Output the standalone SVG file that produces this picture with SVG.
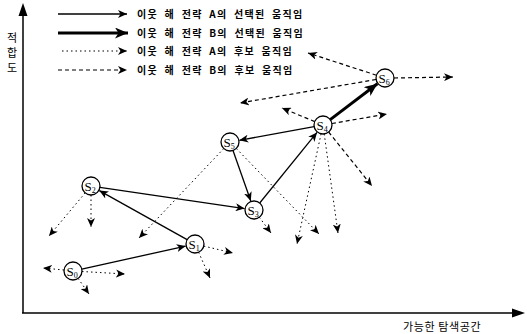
<svg xmlns="http://www.w3.org/2000/svg" width="527" height="334" viewBox="0 0 527 334">
<defs>
<marker id="ah" markerUnits="userSpaceOnUse" markerWidth="10" markerHeight="8" refX="9" refY="4" orient="auto">
<path d="M0,0 L9,4 L0,8 L2.5,4 z" fill="#000"/>
</marker>
<marker id="ahb" markerUnits="userSpaceOnUse" markerWidth="14" markerHeight="11" refX="13" refY="5.5" orient="auto">
<path d="M0,0 L13,5.5 L0,11 L3.5,5.5 z" fill="#000"/>
</marker>
</defs>
<style>
.sel{stroke:#000;stroke-width:1.3;fill:none;marker-end:url(#ah)}
.selb{stroke:#000;stroke-width:3;fill:none;marker-end:url(#ahb)}
.ca{stroke:#000;stroke-width:1;fill:none;stroke-dasharray:1.5 3;marker-end:url(#ah)}
.cb{stroke:#000;stroke-width:1.2;fill:none;stroke-dasharray:4 3;marker-end:url(#ah)}
.node circle{fill:#fff;stroke:#000;stroke-width:1.3}
.node text{font-family:"Liberation Serif",serif;font-size:13px;fill:#000}
.lg{font-family:"Noto Sans CJK KR",sans-serif;font-size:10px;font-weight:bold;fill:#000;letter-spacing:1.3px;word-spacing:3px}
.ax{font-family:"Noto Sans CJK KR",sans-serif;font-size:11px;fill:#000}
.axis{stroke:#000;stroke-width:1.5;fill:none}
</style>
<g id="axes">
<line class="axis" x1="23" y1="313" x2="23" y2="14"/>
<path d="M23,3 L18.5,16 L27.5,16 z" fill="#000"/>
<line class="axis" x1="22" y1="313" x2="514" y2="313"/>
<path d="M525,313 L512,308.5 L512,317.5 z" fill="#000"/>
<text class="ax" x="12" y="42" text-anchor="middle">적</text>
<text class="ax" x="12" y="57" text-anchor="middle">합</text>
<text class="ax" x="12" y="72" text-anchor="middle">도</text>
<text class="ax" x="403" y="331" letter-spacing="0.6">가능한 탐색공간</text>
</g>
<g id="legend">
<line class="sel" x1="58" y1="14" x2="127" y2="14" stroke-width="2"/>
<line class="selb" x1="58" y1="33" x2="128" y2="33"/>
<line class="ca" x1="62" y1="51" x2="127" y2="51"/>
<line class="cb" x1="58" y1="70" x2="127" y2="70"/>
<text class="lg" x="137" y="18">이웃 해 전략 A의 선택된 움직임</text>
<text class="lg" x="137" y="37">이웃 해 전략 B의 선택된 움직임</text>
<text class="lg" x="137" y="55">이웃 해 전략 A의 후보 움직임</text>
<text class="lg" x="137" y="74">이웃 해 전략 B의 후보 움직임</text>
</g>
<g id="connectors">
<line class="sel" x1="81.8" y1="269.1" x2="185.7" y2="246.1"/>
<line class="sel" x1="187.1" y1="239.6" x2="99.3" y2="190.6"/>
<line class="sel" x1="99.9" y1="187.3" x2="244.6" y2="208.6"/>
<line class="sel" x1="259.7" y1="203" x2="317" y2="132.4"/>
<line class="sel" x1="314.1" y1="126.6" x2="239.3" y2="140.3"/>
<line class="sel" x1="233" y1="150.5" x2="250.8" y2="201"/>
<line class="selb" x1="330.2" y1="119.6" x2="377.4" y2="83.7"/>
<line class="ca" x1="64" y1="270" x2="43" y2="268"/>
<line class="ca" x1="82" y1="271.5" x2="125" y2="274"/>
<line class="ca" x1="78.1" y1="278.4" x2="89" y2="294"/>
<line class="ca" x1="203.8" y1="246.1" x2="233" y2="253"/>
<line class="ca" x1="198.6" y1="252.2" x2="210" y2="278"/>
<line class="ca" x1="85.2" y1="192.9" x2="49" y2="236"/>
<line class="ca" x1="91" y1="195" x2="91" y2="227"/>
<line class="ca" x1="223.8" y1="148.5" x2="139" y2="238"/>
<line class="ca" x1="236.3" y1="148.5" x2="319" y2="234"/>
<line class="ca" x1="259.3" y1="217.2" x2="271" y2="233"/>
<line class="ca" x1="321.1" y1="133.8" x2="297" y2="244"/>
<line class="ca" x1="324.2" y1="133.9" x2="338" y2="233"/>
<line class="cb" x1="328.6" y1="132" x2="372" y2="186"/>
<line class="cb" x1="314.7" y1="121.6" x2="282" y2="108"/>
<line class="cb" x1="331.9" y1="123.5" x2="387" y2="114"/>
<line class="cb" x1="376.4" y1="75.2" x2="308" y2="53"/>
<line class="cb" x1="394" y1="78" x2="453" y2="77"/>
<line class="cb" x1="376.1" y1="79.5" x2="240" y2="103"/>
</g>
<g id="S0" class="node"><circle cx="73" cy="271" r="9"/><text x="66.5" y="275.5">S<tspan font-size="8" dy="2">0</tspan></text></g>
<g id="S1" class="node"><circle cx="195" cy="244" r="9"/><text x="188.5" y="248.5">S<tspan font-size="8" dy="2">1</tspan></text></g>
<g id="S2" class="node"><circle cx="91" cy="186" r="9"/><text x="84.5" y="190.5">S<tspan font-size="8" dy="2">2</tspan></text></g>
<g id="S3" class="node"><circle cx="254" cy="210" r="9"/><text x="247.5" y="214.5">S<tspan font-size="8" dy="2">3</tspan></text></g>
<g id="S4" class="node"><circle cx="323" cy="125" r="9"/><text x="316.5" y="129.5">S<tspan font-size="8" dy="2">4</tspan></text></g>
<g id="S5" class="node"><circle cx="230" cy="142" r="9"/><text x="223.5" y="146.5">S<tspan font-size="8" dy="2">5</tspan></text></g>
<g id="S6" class="node"><circle cx="385" cy="78" r="9"/><text x="378.5" y="82.5">S<tspan font-size="8" dy="2">6</tspan></text></g>
</svg>
